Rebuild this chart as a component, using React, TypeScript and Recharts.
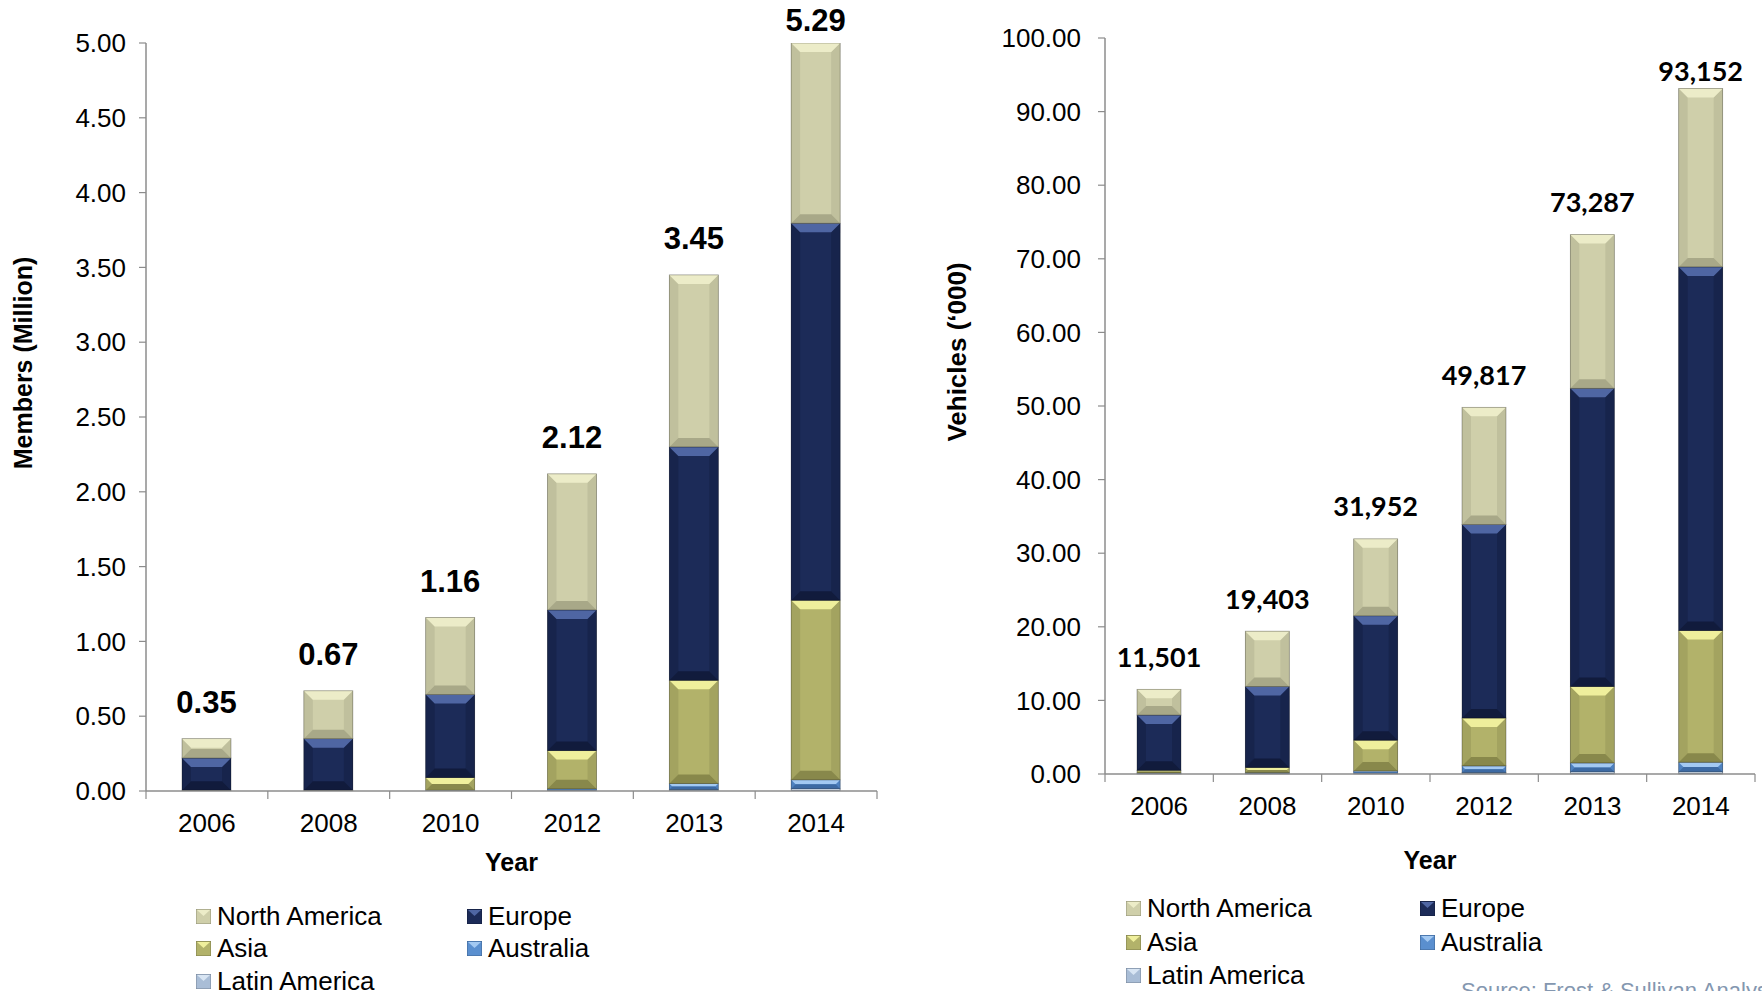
import React from "react";
import { BarChart, Bar, XAxis, YAxis, LabelList, Label } from "recharts";

const years = ["2006", "2008", "2010", "2012", "2013", "2014"];

// Members (Million), stacked bottom to top
const membersLatinAmerica = [0, 0, 0, 0.005, 0.01, 0.015];
const membersAustralia = [0, 0, 0.005, 0.01, 0.04, 0.06];
const membersAsia = [0.005, 0.005, 0.085, 0.255, 0.69, 1.2];
const membersEurope = [0.215, 0.345, 0.555, 0.94, 1.56, 2.52];
const membersNorthAmerica = [0.13, 0.32, 0.515, 0.91, 1.15, 1.495];
const membersTotals = ["0.35", "0.67", "1.16", "2.12", "3.45", "5.29"];
const membersTicks = [0, 0.5, 1, 1.5, 2, 2.5, 3, 3.5, 4, 4.5, 5];

// Vehicles ('000), stacked bottom to top
const vehiclesLatinAmerica = [0.05, 0.05, 0.1, 0.2, 0.3, 0.3];
const vehiclesAustralia = [0.1, 0.15, 0.3, 0.9, 1.2, 1.3];
const vehiclesAsia = [0.35, 0.7, 4.2, 6.5, 10.4, 17.9];
const vehiclesEurope = [7.5, 11.0, 16.9, 26.3, 40.5, 49.4];
const vehiclesNorthAmerica = [3.501, 7.503, 10.452, 15.917, 20.887, 24.252];
const vehiclesTotals = ["11,501", "19,403", "31,952", "49,817", "73,287", "93,152"];
const vehiclesTicks = [0, 10, 20, 30, 40, 50, 60, 70, 80, 90, 100];

const ARIAL = "'Liberation Sans', Arial, sans-serif";
const AXIS = "#8c8c8c";

type Tone = { main: string; light: string; dark: string; side: string };

const tones: Record<string, Tone> = {
  latin: { main: "#a9bdd6", light: "#d8e5f3", dark: "#7d93b0", side: "#98adc8" },
  australia: { main: "#5a8fcf", light: "#a3c9f2", dark: "#3d6aa3", side: "#4f82c0" },
  asia: { main: "#b2b26a", light: "#efef9c", dark: "#88884b", side: "#a3a360" },
  europe: { main: "#1c2b58", light: "#4f66a3", dark: "#111b3c", side: "#17244c" },
  northAmerica: { main: "#cfcfaa", light: "#ececc8", dark: "#a8a888", side: "#c0c09d" },
};

const series = [
  { key: "latin", name: "Latin America" },
  { key: "australia", name: "Australia" },
  { key: "asia", name: "Asia" },
  { key: "europe", name: "Europe" },
  { key: "northAmerica", name: "North America" },
];

const membersData = years.map((year, i) => ({
  year,
  latin: membersLatinAmerica[i],
  australia: membersAustralia[i],
  asia: membersAsia[i],
  europe: membersEurope[i],
  northAmerica: membersNorthAmerica[i],
}));

const vehiclesData = years.map((year, i) => ({
  year,
  latin: vehiclesLatinAmerica[i],
  australia: vehiclesAustralia[i],
  asia: vehiclesAsia[i],
  europe: vehiclesEurope[i],
  northAmerica: vehiclesNorthAmerica[i],
}));

function BevelBar(props: any) {
  const { x, y, width, height, tone } = props;
  if (!height || height <= 0 || !width) return null;
  const b = Math.min(9, height / 2, width / 2);
  const r = x + width;
  const bt = y + height;
  return (
    <g>
      <rect x={x} y={y} width={width} height={height} fill={tone.main} />
      <polygon points={`${x},${y} ${x + b},${y + b} ${x + b},${bt - b} ${x},${bt}`} fill={tone.side} />
      <polygon points={`${r},${y} ${r - b},${y + b} ${r - b},${bt - b} ${r},${bt}`} fill={tone.side} />
      <polygon points={`${x},${y} ${r},${y} ${r - b},${y + b} ${x + b},${y + b}`} fill={tone.light} />
      <polygon points={`${x},${bt} ${r},${bt} ${r - b},${bt - b} ${x + b},${bt - b}`} fill={tone.dark} />
      <rect x={x} y={y} width={width} height={height} fill="none" stroke="rgba(0,0,0,0.35)" strokeWidth={0.8} />
    </g>
  );
}

function makeYearTick(fallbackBand: number) {
  return (props: any) => {
    const { x, y, payload, index, width, visibleTicksCount } = props;
    const band = width && visibleTicksCount ? width / visibleTicksCount : fallbackBand;
    const left = x - band / 2;
    return (
      <g>
        <line x1={left} y1={y} x2={left} y2={y + 8} stroke={AXIS} strokeWidth={1.2} />
        {index === visibleTicksCount - 1 && (
          <line x1={left + band} y1={y} x2={left + band} y2={y + 8} stroke={AXIS} strokeWidth={1.2} />
        )}
        <text x={x} y={y + 32} textAnchor="middle" dominantBaseline="central" fontSize={26} fill="#000" fontFamily={ARIAL}>
          {payload.value}
        </text>
      </g>
    );
  };
}

function makeTotalLabel(totals: string[], plotTop: number, gap: number, minY: number, font: string, size: number) {
  return (p: any) => {
    const vb = p.viewBox ?? p;
    const x = vb.x ?? p.x;
    const y = vb.y ?? p.y;
    const w = vb.width ?? p.width;
    const cy = Math.max(Math.max(y, plotTop) - gap, minY);
    return (
      <text x={x + w / 2} y={cy} textAnchor="middle" dominantBaseline="central" fontSize={size} fontWeight="bold" fill="#000" fontFamily={font}>
        {totals[p.index]}
      </text>
    );
  };
}

// rotated axis title placed at a fixed point of the chart
function makeRotatedTitle(text: string, cx: number, cy: number, size: number) {
  return () => (
    <text
      x={cx}
      y={cy}
      transform={`rotate(-90, ${cx}, ${cy})`}
      textAnchor="middle"
      dominantBaseline="central"
      fontSize={size}
      fontWeight="bold"
      fill="#000"
      fontFamily={ARIAL}
    >
      {text}
    </text>
  );
}

function Swatch({ tone }: { tone: Tone }) {
  return (
    <svg width={15} height={15} style={{ flex: "none" }}>
      <rect x={0} y={0} width={15} height={15} fill={tone.main} stroke="rgba(0,0,0,0.3)" />
      <polygon points="1,1 14,1 7.5,7" fill={tone.light} />
    </svg>
  );
}

const legendOrder = ["northAmerica", "europe", "asia", "australia", "latin"];

function LegendBlock({ left, top, col, row }: { left: number; top: number; col: number; row: number }) {
  return (
    <div
      style={{
        position: "absolute",
        left,
        top,
        display: "grid",
        gridTemplateColumns: `${col}px auto`,
        fontFamily: ARIAL,
        fontSize: 26,
        color: "#000",
      }}
    >
      {legendOrder.map((k) => {
        const s = series.find((e) => e.key === k)!;
        return (
          <div key={k} style={{ display: "flex", alignItems: "center", gap: 6, height: row, whiteSpace: "nowrap" }}>
            <Swatch tone={tones[k]} />
            <span>{s.name}</span>
          </div>
        );
      })}
    </div>
  );
}

function renderBars(totals: string[], plotTop: number, gap: number, minY: number, font: string, size: number) {
  return series.map((s, i) => (
    <Bar
      key={s.key}
      dataKey={s.key}
      name={s.name}
      stackId="a"
      fill={tones[s.key].main}
      isAnimationActive={false}
      shape={(p: any) => <BevelBar {...p} tone={tones[s.key]} />}
    >
      {i === series.length - 1 && (
        <LabelList dataKey={s.key} content={makeTotalLabel(totals, plotTop, gap, minY, font, size)} />
      )}
    </Bar>
  ));
}

export default function App() {
  return (
    <div style={{ position: "absolute", left: 0, top: 0, width: 1762, height: 991, overflow: "hidden", background: "#fff" }}>
      <div style={{ position: "absolute", left: 0, top: 0 }}>
        <BarChart
          width={900}
          height={991}
          data={membersData}
          barSize={49}
          margin={{ top: 43, right: 23, bottom: 120, left: 0 }}
          style={{ fontFamily: ARIAL }}
        >
          <XAxis
            dataKey="year"
            height={80}
            interval={0}
            tickLine={false}
            tickSize={0}
            tickMargin={0}
            axisLine={{ stroke: AXIS, strokeWidth: 1.5 }}
            tick={makeYearTick(731 / 6)}
          >
            <Label value="Year" position="insideBottom" offset={0} style={{ fontSize: 25, fontWeight: "bold", fill: "#000" }} />
          </XAxis>
          <YAxis
            width={146}
            domain={[0, 5]}
            ticks={membersTicks}
            allowDataOverflow
            tickFormatter={(v: number) => v.toFixed(2)}
            tick={{ fontSize: 26, fill: "#000", fontFamily: ARIAL }}
            axisLine={{ stroke: AXIS, strokeWidth: 1.5 }}
            tickLine={{ stroke: AXIS, strokeWidth: 1.2 }}
            tickSize={7}
            tickMargin={13}
          >
            <Label content={makeRotatedTitle("Members (Million)", 23, 363, 25)} />
          </YAxis>
          {renderBars(membersTotals, 43, 36, 20, ARIAL, 31)}
        </BarChart>
      </div>

      <div style={{ position: "absolute", left: 880, top: 0 }}>
        <BarChart
          width={882}
          height={991}
          data={vehiclesData}
          barSize={44}
          margin={{ top: 38, right: 7, bottom: 122, left: 0 }}
          style={{ fontFamily: ARIAL }}
        >
          <XAxis
            dataKey="year"
            height={95}
            interval={0}
            tickLine={false}
            tickSize={0}
            tickMargin={0}
            axisLine={{ stroke: AXIS, strokeWidth: 1.5 }}
            tick={makeYearTick(650 / 6)}
          >
            <Label value="Year" position="insideBottom" offset={0} style={{ fontSize: 25, fontWeight: "bold", fill: "#000" }} />
          </XAxis>
          <YAxis
            width={225}
            domain={[0, 100]}
            ticks={vehiclesTicks}
            tickFormatter={(v: number) => v.toFixed(2)}
            tick={{ fontSize: 26, fill: "#000", fontFamily: ARIAL }}
            axisLine={{ stroke: AXIS, strokeWidth: 1.5 }}
            tickLine={{ stroke: AXIS, strokeWidth: 1.2 }}
            tickSize={7}
            tickMargin={17}
          >
            <Label content={makeRotatedTitle("Vehicles (‘000)", 77, 352, 26)} />
          </YAxis>
          {renderBars(vehiclesTotals, 38, 33, 70, "Lato, 'Open Sans', sans-serif", 27)}
        </BarChart>
      </div>

      <LegendBlock left={196} top={900} col={271} row={32.5} />
      <LegendBlock left={1126} top={892} col={294} row={33.5} />

      <div
        style={{
          position: "absolute",
          left: 1461,
          top: 978,
          fontFamily: ARIAL,
          fontSize: 22,
          color: "#8497b0",
          whiteSpace: "nowrap",
        }}
      >
        Source: Frost &amp; Sullivan Analysis
      </div>
    </div>
  );
}
